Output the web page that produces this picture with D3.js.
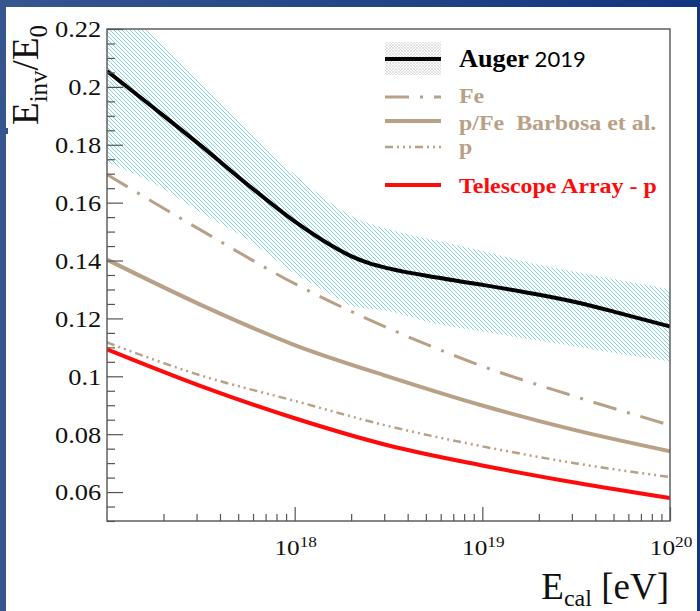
<!DOCTYPE html>
<html>
<head>
<meta charset="utf-8">
<script src="https://cdn.jsdelivr.net/npm/d3@7/dist/d3.min.js"></script>
<style>
body { margin: 0; background: #fff; }
svg text { font-family: "Liberation Serif", "Times New Roman", serif; white-space: pre; }
</style>
</head>
<body>
<svg id="chart" width="700" height="611"></svg>
<script>
// values, energies given as log10(E/eV)
var modelLogE = [17, 17.5, 18, 18.5, 19, 19.5, 20];
var feValues = [0.1697, 0.1505, 0.1320, 0.1166, 0.1035, 0.0929, 0.0831];
var pFeValues = [0.1403, 0.1247, 0.1108, 0.0999, 0.0899, 0.0813, 0.0741];
var pValues = [0.1117, 0.1003, 0.0915, 0.0828, 0.0758, 0.0699, 0.0652];
var taValues = [0.1093, 0.0966, 0.0855, 0.0761, 0.0692, 0.0632, 0.0579];

var augerLogE = [17, 17.25, 17.5, 17.75, 18, 18.2, 18.3, 18.4, 18.5, 18.75, 19, 19.25, 19.5, 19.75, 20];
var augerValues = [0.2055, 0.1927, 0.1797, 0.1662, 0.1535, 0.1450, 0.1415, 0.1390, 0.1373, 0.1342, 0.1316, 0.1288, 0.1256, 0.1215, 0.1172];

var bandLogE = [17, 17.25, 17.5, 17.75, 18, 18.25, 18.3, 18.5, 18.75, 19, 19.25, 19.5, 19.75, 20];
var bandUpper = [0.2320, 0.2175, 0.2012, 0.1852, 0.1697, 0.1574, 0.1555, 0.1508, 0.1470, 0.1433, 0.1392, 0.1360, 0.1330, 0.1300];
var bandLower = [0.1740, 0.1666, 0.1566, 0.1472, 0.1355, 0.1262, 0.1243, 0.1226, 0.1182, 0.1155, 0.1128, 0.1103, 0.1076, 0.1052];

var yTickValues = [0.06, 0.08, 0.1, 0.12, 0.14, 0.16, 0.18, 0.2, 0.22];
var yTickLabels = ['0.06', '0.08', '0.1', '0.12', '0.14', '0.16', '0.18', '0.2', '0.22'];
var xDecades = [18, 19, 20];

var legendNames = ['Fe', 'p/Fe  Barbosa et al.', 'p', 'Telescope Array - p'];

var svg = d3.select('#chart');
var frameL = 107, frameR = 670, frameT = 29, frameB = 521;

var x = d3.scaleLog().domain([1e17, 1e20]).range([frameL, frameR]);
var y = d3.scaleLinear().domain([0.05, 0.22]).range([frameB, frameT]);

// slide background
var defs = svg.append('defs');
var grad = defs.append('linearGradient').attr('id', 'bg');
grad.append('stop').attr('offset', '0%').attr('stop-color', '#35568f');
grad.append('stop').attr('offset', '100%').attr('stop-color', '#11357f');
svg.append('rect').attr('width', 700).attr('height', 611).attr('fill', 'url(#bg)');
svg.append('rect').attr('x', 6).attr('y', 7).attr('width', 691).attr('height', 604).attr('fill', '#fff');
svg.append('rect').attr('x', 6).attr('y', 128).attr('width', 2).attr('height', 6).attr('fill', '#2c5494');

// hatch patterns
var hatch = defs.append('pattern').attr('id', 'hatch')
  .attr('patternUnits', 'userSpaceOnUse').attr('width', 4).attr('height', 4);
hatch.append('path').attr('d', 'M0,0L4,4M-1,3L1,5M3,-1L5,1')
  .attr('stroke', '#6ccfcf').attr('stroke-width', 0.85);
var cross = defs.append('pattern').attr('id', 'cross')
  .attr('patternUnits', 'userSpaceOnUse').attr('width', 3).attr('height', 3);
cross.append('path').attr('d', 'M0,0L3,3M0,3L3,0')
  .attr('stroke', '#cfcfcf').attr('stroke-width', 0.6);

defs.append('clipPath').attr('id', 'plotclip').append('rect')
  .attr('x', frameL).attr('y', frameT).attr('width', frameR - frameL).attr('height', frameB - frameT);

var plot = svg.append('g').attr('clip-path', 'url(#plotclip)');

function toPoints(logs, vals) {
  return logs.map(function(l, i) { return [Math.pow(10, l), vals[i]]; });
}

var line = d3.line()
  .x(function(d) { return x(d[0]); })
  .y(function(d) { return y(d[1]); })
  .curve(d3.curveMonotoneX);

var band = d3.area()
  .x(function(d) { return x(Math.pow(10, d.e)); })
  .y0(function(d) { return y(d.lo); })
  .y1(function(d) { return y(d.hi); })
  .curve(d3.curveMonotoneX);

var bandData = bandLogE.map(function(e, i) { return {e: e, lo: bandLower[i], hi: bandUpper[i]}; });

plot.append('path').datum(bandData)
  .attr('d', band)
  .attr('fill', 'url(#hatch)');

var tan = '#b9a187';
var series = [
  {values: feValues, color: tan, width: 3, dash: '24,11,3,11'},
  {values: pFeValues, color: tan, width: 4, dash: null},
  {values: pValues, color: tan, width: 2.5, dash: '8,4,2,4,2,4,2,4'},
  {values: taValues, color: '#ff0a0a', width: 4, dash: null}
];

series.forEach(function(s) {
  plot.append('path').datum(toPoints(modelLogE, s.values))
    .attr('d', line)
    .attr('fill', 'none')
    .attr('stroke', s.color)
    .attr('stroke-width', s.width)
    .attr('stroke-dasharray', s.dash);
});

plot.append('path').datum(toPoints(augerLogE, augerValues))
  .attr('d', line)
  .attr('fill', 'none')
  .attr('stroke', '#000')
  .attr('stroke-width', 4);

// axes
var axisColor = '#555';
var yMinor = d3.range(0.05, 0.2201, 0.005).filter(function(v) {
  return Math.abs(Math.round(v * 50) - v * 50) > 1e-6;
});

var yMinorAxis = svg.append('g').attr('transform', 'translate(' + frameL + ',0)')
  .call(d3.axisLeft(y).tickValues(yMinor).tickSize(-8).tickSizeOuter(0).tickFormat(''));
var yAxis = svg.append('g').attr('transform', 'translate(' + frameL + ',0)')
  .call(d3.axisLeft(y).tickValues(yTickValues).tickSize(-16).tickSizeOuter(0)
    .tickPadding(5)
    .tickFormat(function(d, i) { return yTickLabels[i]; }));

var xMinor = [];
[17, 18, 19].forEach(function(d) {
  for (var k = 2; k <= 9; k++) xMinor.push(k * Math.pow(10, d));
});
var xMinorAxis = svg.append('g').attr('transform', 'translate(0,' + frameB + ')')
  .call(d3.axisBottom(x).tickValues(xMinor).tickSize(-7).tickSizeOuter(0).tickFormat(''));
var xAxis = svg.append('g').attr('transform', 'translate(0,' + frameB + ')')
  .call(d3.axisBottom(x).tickValues(xDecades.map(function(d) { return Math.pow(10, d); }))
    .tickSize(-14).tickSizeOuter(0).tickFormat(''));

[yMinorAxis, yAxis, xMinorAxis, xAxis].forEach(function(g) {
  g.select('.domain').remove();
  g.selectAll('line').attr('stroke', axisColor).attr('stroke-width', 1.2);
});

yAxis.attr('font-family', null).attr('font-size', null);
yAxis.selectAll('text')
  .attr('font-size', 23)
  .attr('fill', '#111')
  .attr('dy', '0.34em')
  .attr('transform', 'scale(1.15,1)');

xDecades.forEach(function(d) {
  var t = svg.append('text')
    .attr('transform', 'translate(' + (x(Math.pow(10, d)) + 1) + ',555) scale(1.15,1)')
    .attr('text-anchor', 'middle')
    .attr('font-size', 22)
    .attr('fill', '#111');
  t.append('tspan').text('10');
  t.append('tspan').attr('font-size', 15).attr('dy', -8).text(String(d));
});

svg.append('rect')
  .attr('x', frameL).attr('y', frameT)
  .attr('width', frameR - frameL).attr('height', frameB - frameT)
  .attr('fill', 'none').attr('stroke', axisColor).attr('stroke-width', 1.4);

// axis titles
var xt = svg.append('text')
  .attr('x', 669).attr('y', 599)
  .attr('text-anchor', 'end')
  .attr('font-size', 37)
  .attr('fill', '#111');
xt.append('tspan').text('E');
xt.append('tspan').attr('font-size', 24).attr('dy', 7).text('cal');
xt.append('tspan').attr('dy', -7).text(' [eV]');

var yt = svg.append('text')
  .attr('transform', 'translate(38,25) rotate(-90)')
  .attr('text-anchor', 'end')
  .attr('font-size', 37)
  .attr('fill', '#111');
yt.append('tspan').text('E');
yt.append('tspan').attr('font-size', 25).attr('dy', 9).text('inv');
yt.append('tspan').attr('dy', -9).text('/E');
yt.append('tspan').attr('font-size', 25).attr('dy', 9).text('0');

// legend
var legend = svg.append('g');
legend.append('rect').attr('x', 385).attr('y', 42).attr('width', 56).attr('height', 33)
  .attr('fill', 'url(#cross)');
legend.append('line').attr('x1', 385).attr('x2', 441).attr('y1', 59).attr('y2', 59)
  .attr('stroke', '#000').attr('stroke-width', 4);
var at = legend.append('text')
  .attr('transform', 'translate(459,67) scale(1.05,1)')
  .attr('font-size', 25)
  .attr('fill', '#000');
at.append('tspan').attr('font-weight', 'bold').text('Auger');
at.append('tspan').attr('font-family', 'Lato, "DejaVu Sans", sans-serif').attr('font-size', 21).text(' 2019');

var rowLine = [97, 121, 147, 185];
var rowText = [103, 130, 154, 193];
series.forEach(function(s, i) {
  legend.append('line')
    .attr('x1', 385).attr('x2', 441)
    .attr('y1', rowLine[i]).attr('y2', rowLine[i])
    .attr('stroke', s.color)
    .attr('stroke-width', s.width)
    .attr('stroke-dasharray', s.dash);
  legend.append('text')
    .attr('transform', 'translate(459,' + rowText[i] + ') scale(1.14,1)')
    .attr('font-size', 21)
    .attr('font-weight', 'bold')
    .attr('fill', s.color)
    .text(legendNames[i]);
});
</script>
</body>
</html>
